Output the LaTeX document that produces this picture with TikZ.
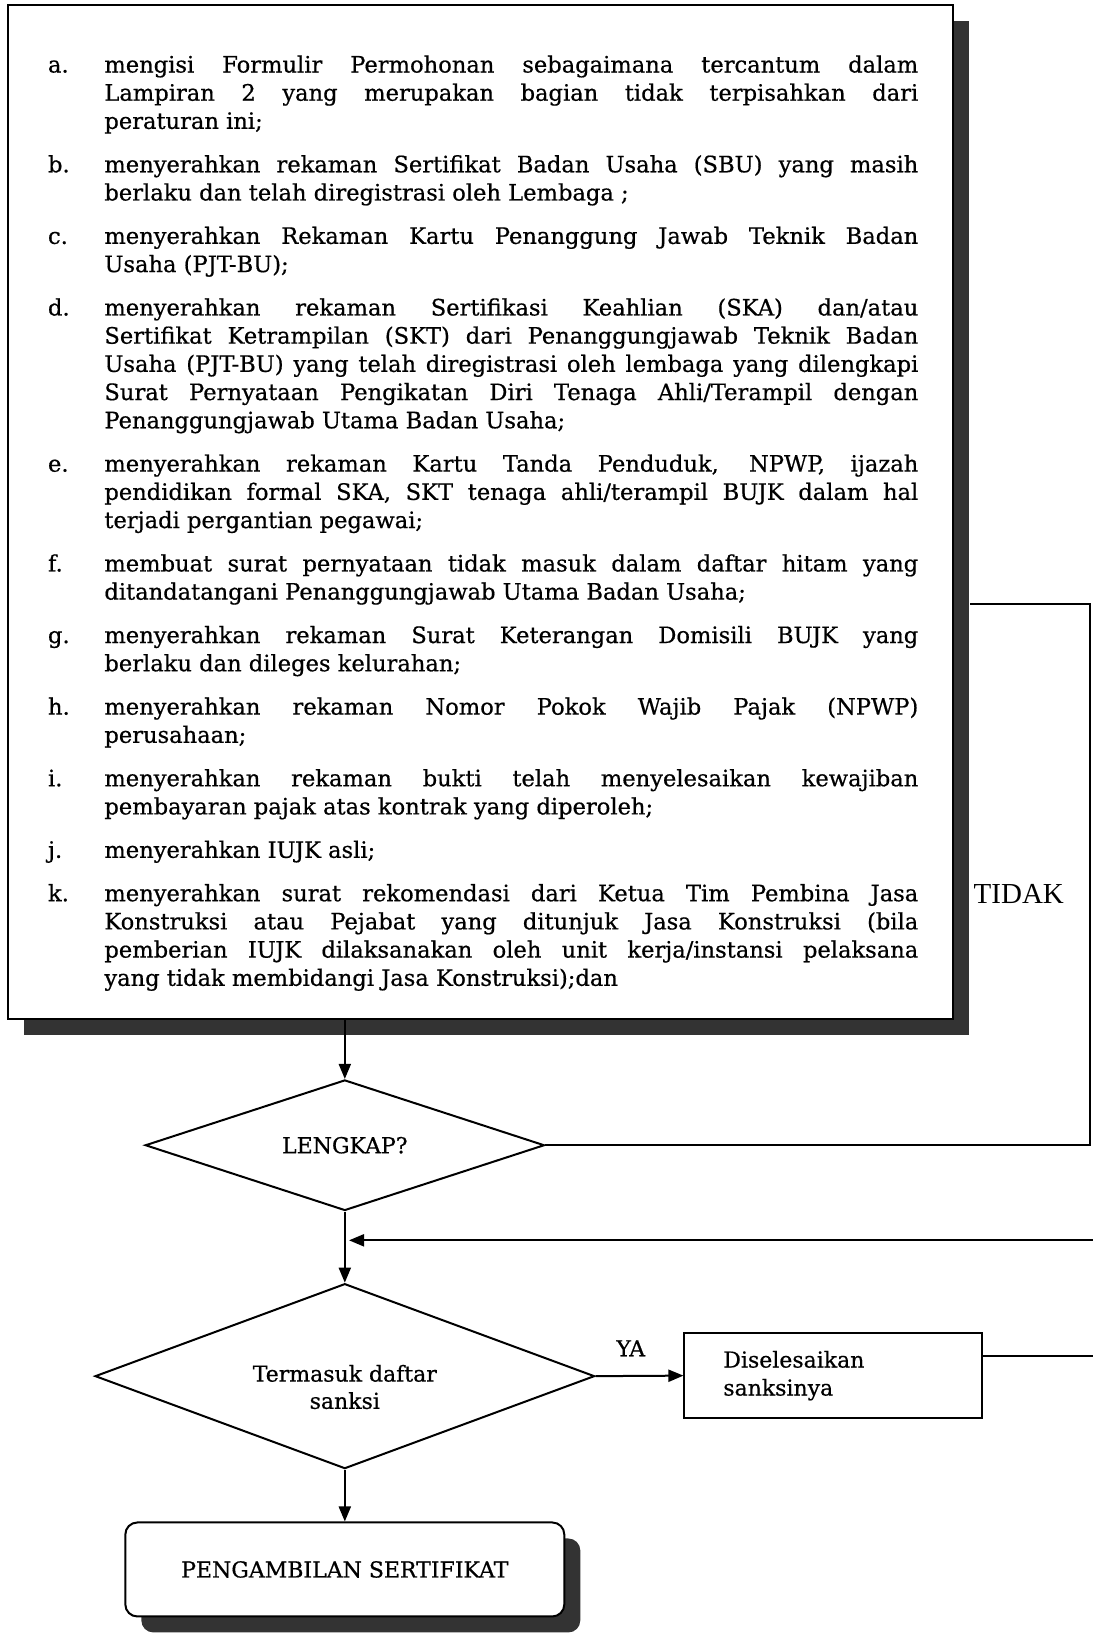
\documentclass[tikz,border=0pt]{standalone}
\usepackage{fontspec}
\setmainfont{DejaVu Serif}[FakeBold=0.6]
\newfontfamily\timesfont{Liberation Serif}
\usetikzlibrary{positioning,shapes.geometric,shadows,arrows.meta}
\newcommand{\butir}[2]{\noindent\hangindent=28.2pt\hangafter=1\makebox[28.2pt][l]{#1}#2\par}

\begin{document}
\begin{tikzpicture}[x=0.5225pt,y=-0.5225pt,line width=1pt,
        >={Triangle[length=7.5pt,width=6pt]},
        bayang/.style={drop shadow={shadow xshift=8pt,shadow yshift=-8pt,fill=black!80,opacity=1}},
        kotak/.style={draw,fill=white,rectangle,inner sep=0pt,font=\fontsize{11}{14}\selectfont},
        belah/.style={draw,diamond,inner sep=0pt,align=center,font=\fontsize{11}{13.6}\selectfont}]
                \useasboundingbox (0,0) rectangle (1046,1567.6);
                \node[kotak,bayang,minimum width=472.3pt,minimum height=506.8pt] (syarat) at (460,490) {};
                \node[anchor=north west,inner sep=0pt,text width=435.2pt,align=justify,font=\fontsize{11.3}{14.1}\selectfont] (daftar) at (45,52) {%
                    \setlength{\parskip}{7.6pt}\hyphenpenalty=10000\exhyphenpenalty=10000\tolerance=9999
                    \butir{a.}{mengisi Formulir Permohonan sebagaimana tercantum dalam\linebreak Lampiran 2 yang merupakan bagian tidak terpisahkan dari\linebreak peraturan ini;}
                    \butir{b.}{menyerahkan rekaman Sertifikat Badan Usaha (SBU) yang masih\linebreak berlaku dan telah diregistrasi oleh Lembaga ;}
                    \butir{c.}{menyerahkan Rekaman Kartu Penanggung Jawab Teknik Badan\linebreak Usaha (PJT-BU);}
                    \butir{d.}{menyerahkan rekaman Sertifikasi Keahlian (SKA) dan/atau\linebreak Sertifikat Ketrampilan (SKT) dari Penanggungjawab Teknik Badan\linebreak Usaha (PJT-BU) yang telah diregistrasi oleh lembaga yang dilengkapi\linebreak Surat Pernyataan Pengikatan Diri Tenaga Ahli/Terampil dengan\linebreak Penanggungjawab Utama Badan Usaha;}
                    \butir{e.}{menyerahkan rekaman Kartu Tanda Penduduk, NPWP, ijazah\linebreak pendidikan formal SKA, SKT tenaga ahli/terampil BUJK dalam hal\linebreak terjadi pergantian pegawai;}
                    \butir{f.}{membuat surat pernyataan tidak masuk dalam daftar hitam yang\linebreak ditandatangani Penanggungjawab Utama Badan Usaha;}
                    \butir{g.}{menyerahkan rekaman Surat Keterangan Domisili BUJK yang\linebreak berlaku dan dileges kelurahan;}
                    \butir{h.}{menyerahkan rekaman Nomor Pokok Wajib Pajak (NPWP)\linebreak perusahaan;}
                    \butir{i.}{menyerahkan rekaman bukti telah menyelesaikan kewajiban\linebreak pembayaran pajak atas kontrak yang diperoleh;}
                    \butir{j.}{menyerahkan IUJK asli;}
                    \butir{k.}{menyerahkan surat rekomendasi dari Ketua Tim Pembina Jasa\linebreak Konstruksi atau Pejabat yang ditunjuk Jasa Konstruksi (bila\linebreak pemberian IUJK dilaksanakan oleh unit kerja/instansi pelaksana\linebreak yang tidak membidangi Jasa Konstruksi);dan}};
                \node[belah,aspect=3.06,minimum width=199.6pt,minimum height=65.3pt] (lengkap) at (330,1096) {LENGKAP?};
                \node[belah,aspect=2.7,minimum width=249.8pt,minimum height=92.5pt] (sanksi) at (330,1317) {\raisebox{-6.8pt}[\height][\depth]{\begin{tabular}{@{}c@{}}Termasuk daftar\\sanksi\end{tabular}}};
                \node[kotak,minimum width=148.9pt,minimum height=42.3pt,text width=110pt,align=left] (selesai) at (797.5,1316.5) {Diselesaikan\\sanksinya};
                \node[kotak,bayang,rounded corners=6pt,minimum width=219.5pt,minimum height=47pt] (ambil) at (330,1502) {PENGAMBILAN SERTIFIKAT};
                \node[font=\timesfont\fontsize{14.5}{16}\selectfont] (tidak) at (975,856) {TIDAK};
                \coordinate (kanan) at (1043,578);
                \coordinate (masuk) at (928,578);
                \coordinate (gabung) at (334,1187);
                \draw[->] (lengkap.north |- syarat.south) -- (lengkap.north);
                \draw[->] (lengkap) -- (sanksi);
                \draw[->] (sanksi.east) --node[above=6pt,pos=0.4,font=\fontsize{11}{13}\selectfont] {YA} (selesai.west);
                \draw[->] (sanksi) -- (ambil);
                \draw (lengkap.east) -| (kanan) -- (masuk);
                \draw[->] ([yshift=9.7pt]selesai.east) -- ++(120,0) |- (gabung);
            \end{tikzpicture}
\end{document}
